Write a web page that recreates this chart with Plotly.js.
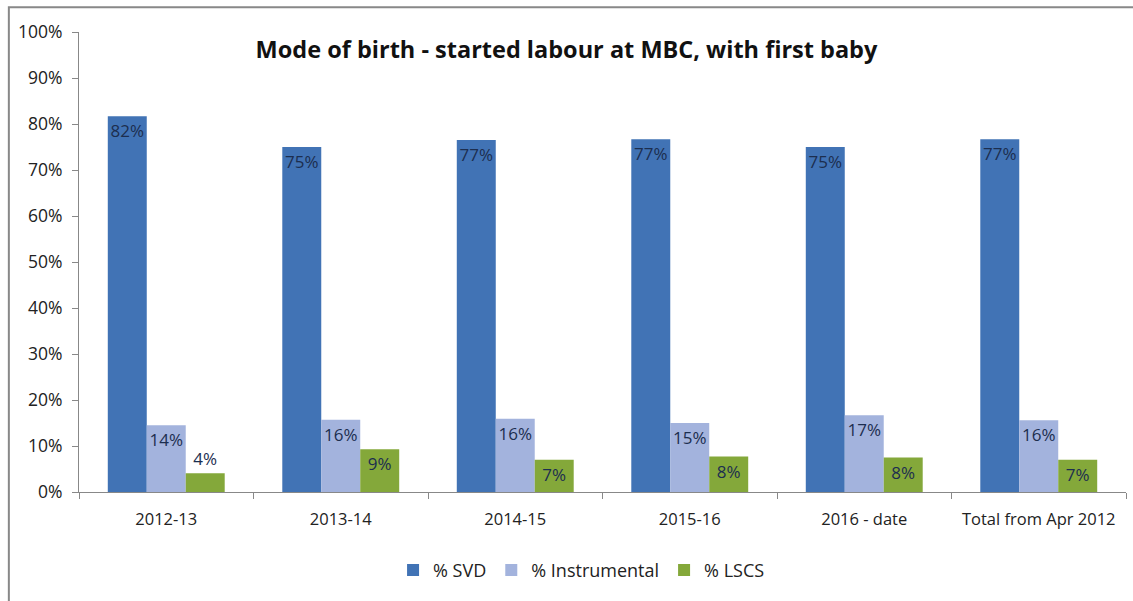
<!DOCTYPE html>
<html>
<head>
<meta charset="utf-8">
<script src="https://cdn.plot.ly/plotly-3.0.1.min.js"></script>
<style>
  html, body { margin: 0; padding: 0; background: #fff; }
  #chart { width: 1133px; height: 601px; }
</style>
</head>
<body>
<div id="chart"></div>
<script>
// mode of birth, first baby, labour started at MBC
const categories = ["2012-13", "2013-14", "2014-15", "2015-16", "2016 - date", "Total from Apr 2012"];
const svd = [0.817, 0.750, 0.765, 0.767, 0.750, 0.767];
const instrumental = [0.145, 0.157, 0.159, 0.150, 0.167, 0.156];
const lscs = [0.041, 0.093, 0.070, 0.077, 0.075, 0.070];

const font = "Open Sans, Noto Sans, sans-serif";

function barTrace(name, values, color) {
  return {
    x: categories,
    y: values,
    name: name,
    type: 'bar',
    marker: { color: color },
    texttemplate: '%{y:.0%}',
    // short bars get their label just above the top
    textposition: values.map(v => v < 0.05 ? 'outside' : 'inside'),
    insidetextanchor: 'end',
    constraintext: 'none',
    textangle: 0,
    insidetextfont: { family: font, size: 17, color: '#1c2e4f' },
    outsidetextfont: { family: font, size: 17, color: '#1c2e4f' },
    cliponaxis: false,
    hoverinfo: 'skip'
  };
}

const traces = [
  barTrace('% SVD', svd, '#4173b5'),
  barTrace('% Instrumental', instrumental, '#a3b3dd'),
  barTrace('% LSCS', lscs, '#84a83a')
];

const layout = {
  width: 1133,
  height: 601,
  margin: { l: 79, r: 7, t: 32, b: 109 },
  paper_bgcolor: '#fff',
  plot_bgcolor: '#fff',
  font: { family: font, size: 16, color: '#222' },
  title: {
    text: '<b>Mode of birth - started labour at MBC, with first baby</b>',
    font: { family: font, size: 23.5, color: '#111' },
    x: 0.5,
    xanchor: 'center',
    y: 0.917,
    yanchor: 'middle'
  },
  barmode: 'group',
  bargap: 0.33,
  bargroupgap: 0,
  xaxis: {
    showline: true,
    linecolor: '#888',
    ticks: 'outside',
    tickson: 'boundaries',
    ticklen: 6,
    tickcolor: '#888',
    showgrid: false,
    ticklabelstandoff: 12,
    tickfont: { family: font, size: 16.5, color: '#222' }
  },
  yaxis: {
    range: [0, 1],
    dtick: 0.1,
    tickformat: '.0%',
    showline: true,
    linecolor: '#888',
    ticks: 'outside',
    ticklen: 6,
    tickcolor: '#888',
    showgrid: false,
    zeroline: false,
    ticklabelstandoff: 6,
    tickfont: { family: font, size: 17.5, color: '#222' }
  },
  legend: {
    orientation: 'h',
    x: 0.48,
    xanchor: 'center',
    y: -0.13,
    yanchor: 'top',
    font: { family: font, size: 18, color: '#222' },
    itemwidth: 30
  },
  shapes: [{
    type: 'rect',
    xref: 'paper', yref: 'paper',
    x0: -0.067, x1: 1.3, y0: -0.5, y1: 1.054,
    line: { color: '#888', width: 2 }
  }]
};

Plotly.newPlot('chart', traces, layout, { staticPlot: true });
</script>
</body>
</html>
